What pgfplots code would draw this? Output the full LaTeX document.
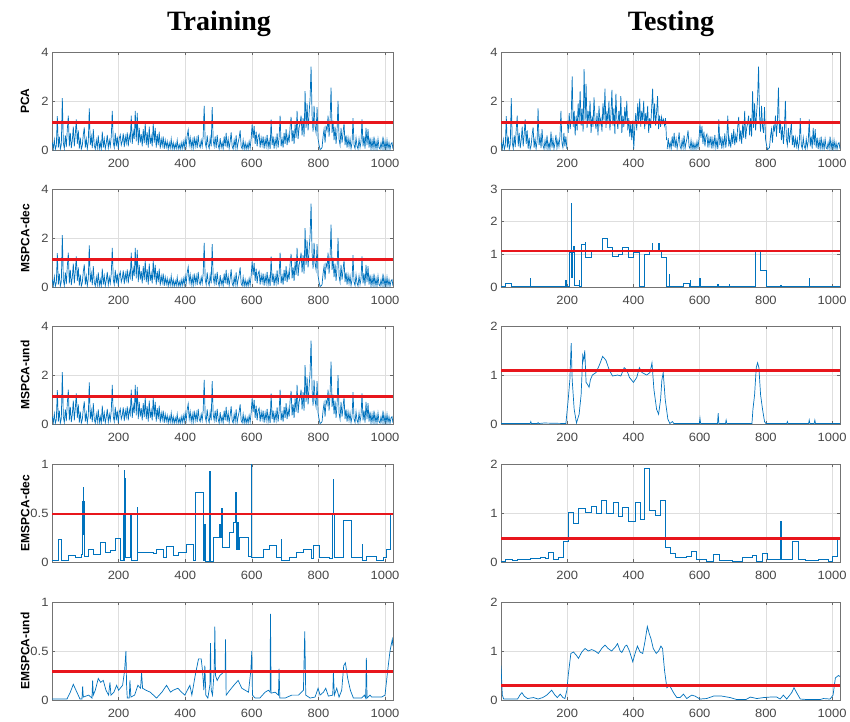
\documentclass[border=0pt]{standalone}
\usepackage{pgfplots}
\pgfplotsset{compat=1.18}
\usepackage{pgfplotstable}
\usepackage{fontspec}
\setmainfont{Liberation Sans}
\newfontfamily\titlefont{Liberation Serif}
\newfontfamily\tickfont{Liberation Sans}[FakeStretch=1.08]

\definecolor{mblue}{RGB}{0,114,189}
\definecolor{limred}{RGB}{232,22,28}

\pgfplotsset{
  mstyle/.style={
    scale only axis, height=98pt,
    xmin=0, xmax=1024, ymin=0,
    xtick={200,400,600,800,1000},
    tick pos=both, tick align=inside, major tick length=3pt,
    grid=major, major grid style={black!13, line width=0.5pt},
    axis line style={black!55, line width=0.6pt},
    tick style={black!60, line width=0.5pt},
    ticklabel style={font=\tickfont\fontsize{12}{12}\selectfont, text=black!72},
    xticklabel style={yshift=-5.5pt},
    /pgf/number format/assume math mode=true,
    /pgf/number format/1000 sep={},
    every axis y label/.style={at={(axis description cs:0,0.5)}, xshift=-27pt,
      rotate=90, anchor=center, font=\bfseries\fontsize{12}{13}\selectfont},
    cycle list={{mblue, mark=none, line width=0.7pt}},
    every axis plot/.append style={mark=none, line width=0.7pt, color=mblue},
  },
  lim/.style={limred, line width=2.8pt},
}

\begin{document}
% Q statistic of the training set, one sample in three
\pgfplotstableread[row sep=\\]{y\\
0.30\\0.05\\0.42\\0.03\\0.18\\1.38\\0.10\\0.55\\0.04\\0.22\\
2.12\\0.30\\0.06\\0.60\\0.12\\0.85\\1.40\\0.15\\0.70\\0.08\\
0.40\\0.95\\0.15\\0.65\\1.25\\0.25\\0.80\\0.06\\0.50\\0.04\\
0.18\\0.62\\0.92\\0.10\\0.45\\0.05\\0.35\\1.70\\0.20\\0.55\\
0.08\\0.85\\0.18\\0.04\\0.40\\0.10\\0.60\\0.05\\0.30\\0.03\\
0.75\\0.10\\0.45\\0.05\\0.28\\0.62\\0.08\\0.40\\0.15\\0.55\\
1.60\\0.30\\0.10\\0.70\\0.15\\0.55\\0.05\\0.48\\0.62\\0.20\\
0.35\\0.68\\0.12\\0.55\\0.28\\0.72\\0.15\\0.60\\0.40\\1.40\\
0.25\\0.75\\0.45\\1.60\\0.35\\1.52\\0.20\\0.90\\0.30\\0.65\\
0.15\\0.85\\0.28\\1.10\\0.20\\0.72\\0.10\\0.95\\0.25\\0.55\\
0.15\\1.10\\0.30\\0.90\\0.10\\0.65\\0.20\\0.75\\0.06\\0.45\\
0.18\\0.55\\0.05\\0.40\\0.12\\0.35\\0.04\\0.30\\0.08\\0.45\\
0.05\\0.30\\0.03\\0.25\\0.06\\0.40\\0.04\\0.22\\0.03\\0.30\\
0.05\\0.35\\0.08\\0.45\\0.15\\0.60\\0.82\\0.20\\0.50\\0.10\\
0.40\\0.06\\0.55\\0.15\\0.45\\0.08\\0.62\\0.20\\0.10\\0.40\\
0.15\\0.55\\1.80\\0.30\\0.10\\0.60\\0.20\\0.06\\0.50\\0.15\\
1.75\\0.40\\0.15\\0.55\\0.08\\0.62\\0.20\\0.04\\0.48\\0.10\\
0.30\\0.05\\0.55\\0.15\\0.70\\0.10\\0.45\\0.06\\0.35\\0.72\\
0.15\\0.04\\0.40\\0.10\\0.60\\0.06\\0.30\\0.50\\0.80\\0.15\\
0.05\\0.40\\0.03\\0.30\\0.03\\0.25\\0.04\\0.35\\0.08\\0.45\\
1.05\\0.50\\0.98\\0.25\\0.75\\0.15\\0.55\\0.65\\0.10\\0.50\\
0.20\\0.55\\0.06\\0.45\\0.15\\0.62\\0.10\\0.40\\0.04\\1.25\\
0.20\\0.55\\0.06\\0.45\\0.15\\0.68\\0.10\\0.50\\1.40\\0.15\\
0.45\\0.10\\0.70\\0.25\\0.85\\0.20\\0.60\\0.30\\0.95\\1.35\\
0.35\\0.80\\0.25\\1.05\\0.50\\1.60\\0.45\\0.90\\1.10\\1.40\\
0.60\\1.30\\0.55\\2.40\\0.90\\1.90\\0.80\\1.50\\2.10\\3.40\\
1.40\\0.75\\1.80\\0.95\\0.70\\1.75\\0.45\\0.20\\0.02\\0.05\\
0.10\\0.55\\0.85\\0.30\\0.95\\0.80\\1.40\\0.55\\1.20\\2.55\\
0.70\\1.20\\0.40\\0.95\\0.25\\0.80\\2.00\\0.45\\0.20\\0.90\\
0.30\\0.70\\1.10\\0.20\\0.60\\0.10\\0.50\\0.15\\0.45\\0.06\\
0.30\\1.30\\0.20\\0.06\\0.50\\0.15\\0.04\\0.45\\0.10\\0.35\\
1.25\\0.15\\0.55\\0.06\\0.90\\0.20\\0.85\\0.10\\0.50\\0.04\\
0.40\\0.06\\0.55\\0.05\\0.35\\0.03\\0.45\\0.10\\0.04\\0.30\\
0.06\\0.55\\0.04\\0.35\\0.03\\0.40\\0.05\\0.30\\0.03\\0.25\\
0.30\\0.05\\}\pcatrain

% Q statistic of the testing set during the fault, samples 200 to 500
\pgfplotstableread[row sep=\\]{y\\
1.20\\0.70\\1.50\\0.85\\1.30\\3.00\\0.95\\1.60\\0.60\\1.40\\
0.80\\1.90\\1.10\\2.40\\1.00\\1.70\\0.75\\3.30\\1.20\\2.70\\
0.90\\1.60\\1.10\\2.00\\0.70\\1.40\\0.95\\2.15\\1.20\\0.85\\
1.50\\0.60\\1.80\\1.05\\1.30\\0.75\\1.90\\1.20\\2.50\\0.90\\
1.60\\1.10\\2.00\\0.80\\1.45\\2.45\\1.00\\1.70\\0.65\\2.30\\
1.25\\0.85\\1.60\\1.05\\2.20\\0.70\\1.40\\0.95\\1.75\\1.10\\
2.00\\0.80\\1.30\\0.55\\1.10\\0.40\\1.20\\0.05\\0.90\\1.50\\
0.80\\1.90\\1.10\\2.10\\0.95\\1.60\\1.20\\2.00\\0.85\\1.50\\
1.05\\1.80\\0.70\\1.30\\0.90\\1.70\\2.50\\1.10\\1.90\\1.00\\
1.55\\2.20\\0.85\\1.40\\0.95\\1.35\\1.10\\1.25\\1.00\\1.30\\
0.40\\}\pcafault

\begin{tikzpicture}[x=1pt,y=1pt]
\path[use as bounding box] (0,0) rectangle (850,-721);

\node[font=\titlefont\bfseries\fontsize{28}{30}\selectfont, anchor=base] at (219,-30) {Training};
\node[font=\titlefont\bfseries\fontsize{28}{30}\selectfont, anchor=base] at (671,-30) {Testing};

% ---------------- PCA ----------------
\begin{axis}[mstyle, width=341pt, at={(52pt,-150pt)}, anchor=south west,
  ymax=4, ytick={0,2,4}, ylabel={PCA}]
\addplot table[x expr=3*\coordindex+1, y=y] {\pcatrain};
\addplot[lim] coordinates {(0,1.12) (1024,1.12)};
\end{axis}
\begin{axis}[mstyle, width=339pt, at={(501pt,-150pt)}, anchor=south west,
  ymax=4, ytick={0,2,4}]
\addplot[restrict x to domain=0:199] table[x expr=3*\coordindex+1, y=y] {\pcatrain};
\addplot table[x expr=3*\coordindex+200, y=y] {\pcafault};
\addplot[restrict x to domain=501:1024] table[x expr=3*\coordindex+1, y=y] {\pcatrain};
\addplot[lim] coordinates {(0,1.12) (1024,1.12)};
\end{axis}

% ---------------- MSPCA-dec ----------------
\begin{axis}[mstyle, width=341pt, at={(52pt,-287pt)}, anchor=south west,
  ymax=4, ytick={0,2,4}, ylabel={MSPCA-dec}]
\addplot table[x expr=3*\coordindex+1, y=y] {\pcatrain};
\addplot[lim] coordinates {(0,1.12) (1024,1.12)};
\end{axis}
\begin{axis}[mstyle, width=339pt, at={(501pt,-287pt)}, anchor=south west,
  ymax=3, ytick={0,1,2,3}]
\addplot[const plot] coordinates {
(0,0.01)(14,0.10)(30,0.01)(89,0.25)(90,0.01)(195,0.20)(196,0.01)(205,1.05)(212,2.55)(213,0.30)
(215,1.05)(220,1.25)(221,0.05)(236,0.20)(237,0.01)(242,1.32)(255,1.38)(256,0.90)(272,1.10)(305,1.50)
(320,1.20)(335,0.95)(355,1.00)(368,1.20)(386,0.90)(401,1.05)(417,0.01)(433,1.00)(449,1.10)(456,1.35)
(457,1.10)(476,1.35)(477,1.12)(483,0.90)(500,0.01)(509,0.40)(510,0.01)(551,0.12)(569,0.01)(572,0.20)
(573,0.01)(600,0.25)(601,0.01)(654,0.08)(655,0.01)(689,0.08)(690,0.01)(767,1.10)(784,0.50)(800,0.01)
(844,0.05)(846,0.01)(930,0.28)(931,0.01)(1024,0.01)};
\addplot[lim] coordinates {(0,1.1) (1024,1.1)};
\end{axis}

% ---------------- MSPCA-und ----------------
\begin{axis}[mstyle, width=341pt, at={(52pt,-424pt)}, anchor=south west,
  ymax=4, ytick={0,2,4}, ylabel={MSPCA-und}]
\addplot table[x expr=3*\coordindex+1, y=y] {\pcatrain};
\addplot[lim] coordinates {(0,1.12) (1024,1.12)};
\end{axis}
\begin{axis}[mstyle, width=339pt, at={(501pt,-424pt)}, anchor=south west,
  ymax=2, ytick={0,1,2}]
\addplot coordinates {
(0,0.01)(88,0.01)(90,0.05)(92,0.01)(110,0.01)(112,0.03)(114,0.01)(130,0.02)(196,0.01)(203,0.50)
(208,0.90)(212,1.65)(215,0.90)(218,0.60)(221,0.30)(228,0.02)(236,0.20)(242,0.60)(247,1.40)(250,1.30)
(253,1.50)(257,0.85)(262,0.80)(266,0.75)(270,0.90)(276,1.00)(287,1.05)(297,1.20)(307,1.38)(317,1.30)
(327,1.10)(337,0.98)(352,1.00)(362,0.98)(372,1.15)(380,1.10)(388,0.95)(400,0.85)(410,0.95)(418,1.15)
(426,1.05)(440,1.00)(450,1.05)(456,1.25)(462,0.70)(470,0.30)(476,0.20)(482,0.50)(486,0.90)(490,1.05)
(496,0.50)(500,0.30)(504,0.10)(510,0.01)(518,0.05)(522,0.01)(599,0.01)(601,0.12)(603,0.01)(654,0.01)
(656,0.22)(658,0.01)(678,0.01)(680,0.08)(682,0.01)(758,0.01)(761,0.30)(766,0.60)(771,1.15)(775,1.25)
(779,1.15)(784,0.60)(790,0.30)(796,0.05)(800,0.01)(863,0.01)(865,0.05)(867,0.01)(929,0.01)(931,0.08)
(933,0.01)(946,0.01)(948,0.08)(950,0.01)(1024,0.01)};
\addplot[lim] coordinates {(0,1.09) (1024,1.09)};
\end{axis}

% ---------------- EMSPCA-dec ----------------
\begin{axis}[mstyle, width=341pt, at={(52pt,-562pt)}, anchor=south west,
  ymax=1, ytick={0,0.5,1}, ylabel={EMSPCA-dec}]
\addplot[const plot] coordinates {
(0,0.02)(19,0.23)(29,0.02)(49,0.07)(69,0.05)(89,0.08)(92,0.62)(93,0.30)(94,0.76)(95,0.28)
(96,0.62)(97,0.06)(109,0.13)(124,0.08)(144,0.20)(159,0.10)(174,0.12)(189,0.24)(204,0.02)(214,0.50)
(215,0.02)(216,0.94)(217,0.30)(218,0.85)(219,0.40)(220,0.84)(221,0.05)(236,0.48)(237,0.02)(256,0.56)
(257,0.10)(304,0.09)(314,0.13)(334,0.05)(344,0.16)(364,0.07)(379,0.10)(404,0.18)(424,0.02)(429,0.71)
(454,0.02)(458,0.38)(459,0.01)(474,0.93)(475,0.01)(484,0.25)(504,0.38)(506,0.25)(509,0.55)(511,0.15)
(534,0.30)(544,0.40)(552,0.71)(553,0.13)(558,0.40)(561,0.13)(564,0.25)(589,0.06)(599,1.00)(600,0.05)
(634,0.13)(654,0.17)(674,0.05)(689,0.23)(690,0.02)(714,0.05)(734,0.10)(754,0.13)(779,0.04)(784,0.17)
(804,0.05)(834,0.04)(842,0.50)(844,0.84)(846,0.50)(848,0.05)(874,0.43)(899,0.05)(931,0.18)(932,0.02)
(944,0.06)(974,0.02)(994,0.05)(1004,0.13)(1016,0.50)(1024,0.50)};
\addplot[lim] coordinates {(0,0.49) (1024,0.49)};
\end{axis}
\begin{axis}[mstyle, width=339pt, at={(501pt,-562pt)}, anchor=south west,
  ymax=2, ytick={0,1,2}]
\addplot[const plot] coordinates {
(0,0.02)(12,0.05)(33,0.03)(48,0.06)(68,0.05)(88,0.08)(118,0.10)(133,0.07)(143,0.20)(158,0.05)
(174,0.10)(189,0.42)(204,1.02)(219,0.78)(234,1.10)(256,1.02)(274,1.14)(289,1.00)(304,1.25)(319,1.00)
(338,1.22)(353,0.93)(368,1.12)(385,0.82)(405,1.22)(420,0.88)(432,1.92)(448,1.05)(466,0.95)(481,1.25)
(496,0.30)(511,0.18)(526,0.10)(560,0.12)(575,0.22)(590,0.05)(620,0.02)(640,0.15)(660,0.03)(700,0.02)
(730,0.10)(760,0.13)(770,0.02)(790,0.17)(805,0.05)(843,0.50)(845,0.84)(847,0.05)(881,0.42)(898,0.05)
(920,0.03)(960,0.05)(990,0.02)(1000,0.12)(1015,0.50)(1024,0.50)};
\addplot[lim] coordinates {(0,0.48) (1024,0.48)};
\end{axis}

% ---------------- EMSPCA-und ----------------
\begin{axis}[mstyle, width=341pt, at={(52pt,-700pt)}, anchor=south west,
  ymax=1, ytick={0,0.5,1}, ylabel={EMSPCA-und}]
\addplot coordinates {
(0,0.01)(45,0.01)(55,0.08)(64,0.16)(72,0.10)(84,0.01)(90,0.01)(92,0.14)(94,0.03)(110,0.05)
(120,0.02)(122,0.20)(124,0.05)(130,0.10)(139,0.22)(146,0.18)(154,0.20)(162,0.10)(170,0.05)(174,0.18)
(177,0.05)(186,0.08)(194,0.15)(200,0.10)(212,0.15)(218,0.30)(222,0.50)(224,0.15)(226,0.02)(232,0.02)
(234,0.20)(237,0.03)(248,0.05)(258,0.15)(266,0.12)(269,0.28)(272,0.12)(282,0.10)(295,0.08)(314,0.02)
(330,0.08)(344,0.15)(356,0.08)(364,0.10)(378,0.12)(389,0.08)(399,0.05)(414,0.15)(420,0.05)(430,0.25)
(440,0.42)(448,0.42)(452,0.30)(456,0.10)(459,0.35)(462,0.05)(468,0.02)(474,0.15)(476,0.58)(478,0.10)
(482,0.05)(487,0.30)(489,0.75)(491,0.25)(496,0.20)(504,0.25)(514,0.28)(520,0.30)(521,0.62)(523,0.05)
(534,0.10)(546,0.15)(559,0.20)(570,0.12)(580,0.10)(590,0.08)(597,0.30)(600,0.50)(602,0.05)(610,0.02)
(624,0.02)(640,0.08)(650,0.10)(655,0.08)(656,0.88)(658,0.07)(670,0.08)(680,0.05)(682,0.32)(684,0.02)
(700,0.02)(720,0.05)(740,0.05)(755,0.10)(759,0.70)(762,0.05)(775,0.02)(790,0.03)(799,0.12)(805,0.05)
(815,0.08)(822,0.12)(830,0.04)(843,0.05)(845,0.28)(848,0.05)(855,0.12)(862,0.03)(870,0.10)(876,0.35)
(881,0.38)(888,0.22)(896,0.10)(905,0.02)(930,0.02)(938,0.05)(942,0.02)(944,0.43)(946,0.02)(955,0.05)
(960,0.03)(990,0.03)(1000,0.05)(1008,0.30)(1015,0.50)(1022,0.62)(1024,0.55)};
\addplot[lim] coordinates {(0,0.29) (1024,0.29)};
\end{axis}
\begin{axis}[mstyle, width=339pt, at={(501pt,-700pt)}, anchor=south west,
  ymax=2, ytick={0,1,2}]
\addplot coordinates {
(0,0.70)(4,0.10)(8,0.02)(50,0.02)(57,0.10)(63,0.15)(70,0.08)(80,0.03)(98,0.05)(112,0.02)
(126,0.05)(138,0.10)(153,0.20)(163,0.10)(170,0.05)(179,0.12)(187,0.05)(193,0.03)(199,0.20)(203,0.50)
(211,0.95)(219,0.98)(229,0.90)(234,0.85)(244,0.98)(254,1.05)(264,1.00)(274,1.03)(284,1.00)(294,0.95)
(304,1.05)(314,1.12)(324,1.05)(334,1.00)(345,1.08)(352,1.15)(360,1.00)(365,0.97)(375,1.10)(380,1.12)
(388,1.00)(398,0.78)(405,0.95)(412,1.10)(420,0.98)(428,0.95)(435,1.20)(442,1.50)(448,1.35)(453,1.25)
(460,1.05)(469,0.95)(476,1.00)(483,1.10)(488,1.05)(494,0.60)(501,0.25)(509,0.30)(521,0.15)(531,0.05)
(541,0.05)(551,0.12)(561,0.03)(576,0.10)(586,0.08)(601,0.02)(621,0.03)(642,0.08)(667,0.08)(692,0.05)
(712,0.01)(740,0.01)(753,0.06)(773,0.03)(793,0.05)(813,0.06)(833,0.06)(843,0.02)(853,0.10)(863,0.02)
(878,0.15)(885,0.25)(893,0.15)(904,0.02)(924,0.01)(964,0.01)(974,0.03)(994,0.02)(1003,0.10)(1010,0.45)
(1019,0.50)(1024,0.48)};
\addplot[lim] coordinates {(0,0.3) (1024,0.3)};
\end{axis}
\end{tikzpicture}
\end{document}
